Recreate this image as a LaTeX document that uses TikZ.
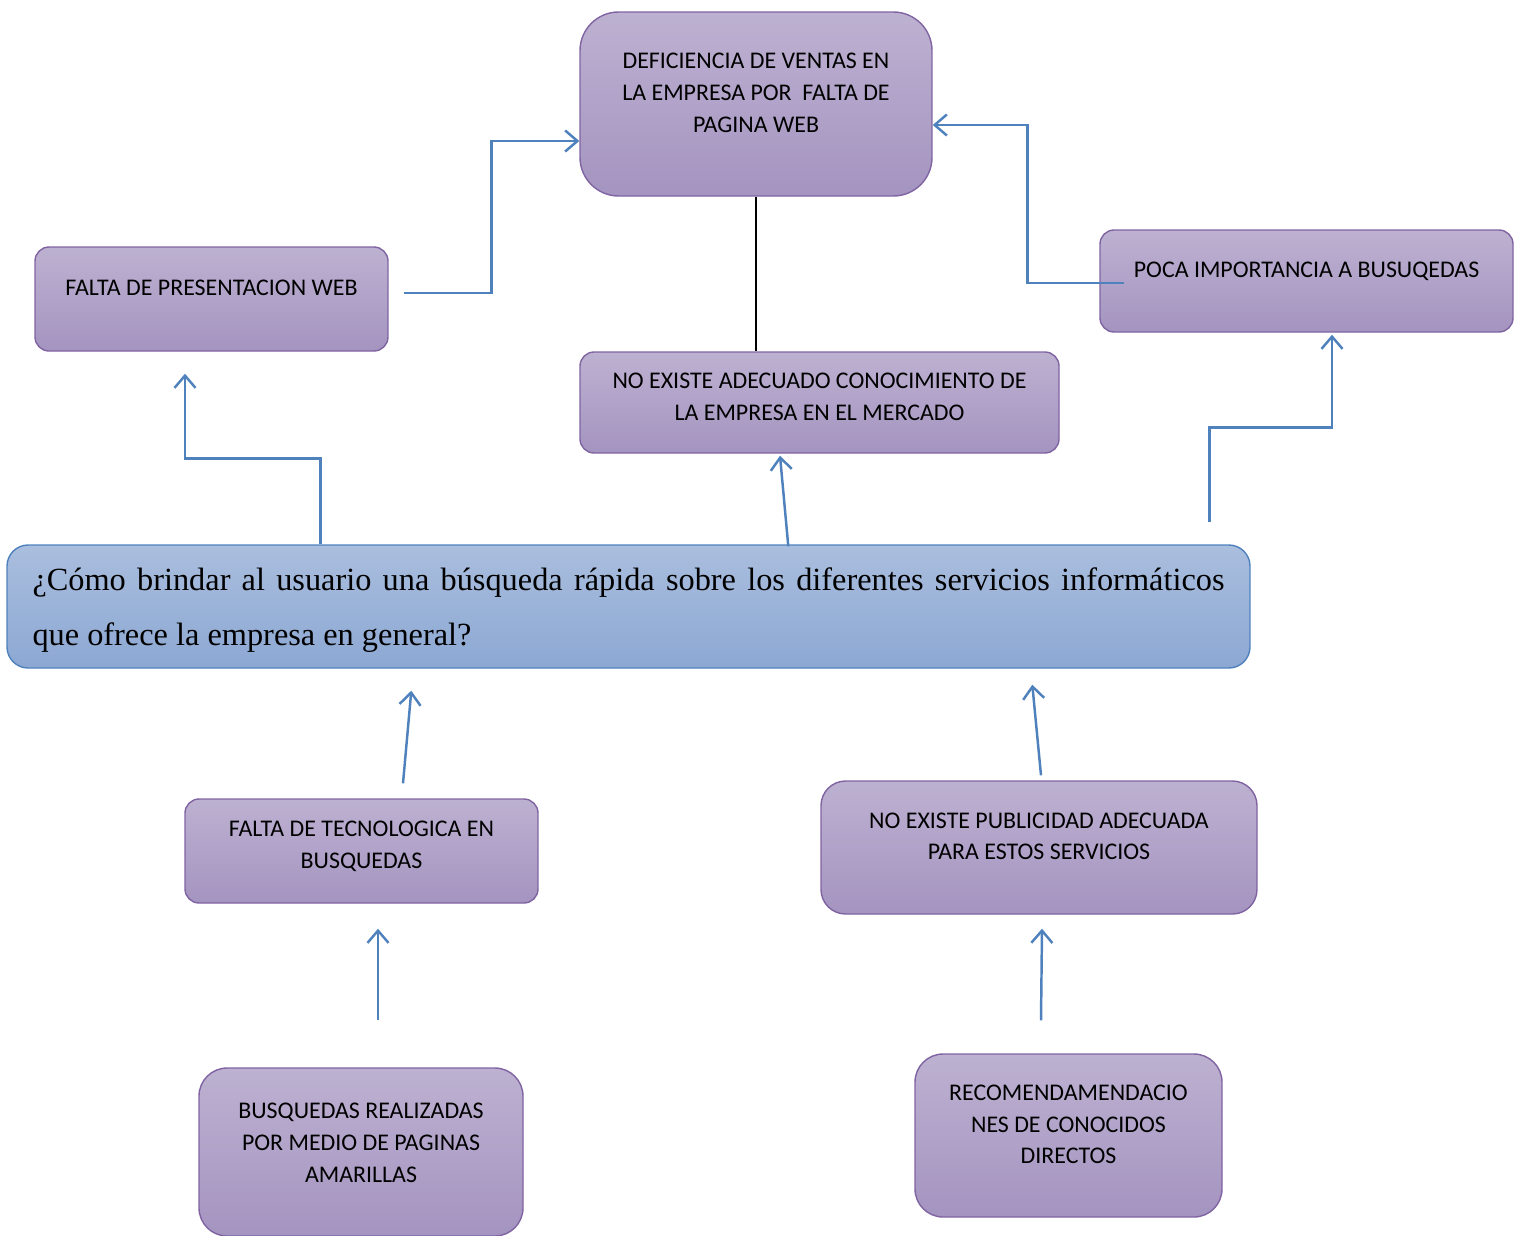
\documentclass[tikz,border=0pt]{standalone}
\usepackage{fontspec}
\setmainfont{Carlito}
\newfontfamily\preguntafont{Liberation Serif}
\usepackage{tikz}
\usetikzlibrary{arrows.meta, positioning, calc}
\definecolor{boxtop}{RGB}{189,177,209}
\definecolor{boxbot}{RGB}{164,148,192}
\definecolor{boxline}{RGB}{128,100,162}
\definecolor{pregtop}{RGB}{170,190,222}
\definecolor{pregbot}{RGB}{140,168,211}
\definecolor{arrowblue}{RGB}{79,129,189}

\begin{document}
\begin{tikzpicture}[
  causa/.style={rectangle, rounded corners=8pt, draw=boxline, line width=0.8pt,
                top color=boxtop, bottom color=boxbot, align=center, inner sep=0pt,
                font=\fontsize{13.6}{18.1}\selectfont, text depth=0.45cm},
  pregunta/.style={rectangle, rounded corners=12pt, draw=arrowblue, line width=0.8pt,
                   top color=pregtop, bottom color=pregbot, align=justify,
                   text width=23.84cm, inner xsep=0.51cm, minimum height=2.46cm,
                   text height=0.6cm, font=\preguntafont\fontsize{18.4}{31.3}\selectfont},
  arrow/.style={-{Straight Barb[length=7pt, width=12pt]}, line width=1.4pt, draw=arrowblue},
]
\useasboundingbox (0,0) rectangle (30.46,-24.7);
\node[causa, minimum width=7.04cm, minimum height=3.68cm, rounded corners=22pt] (def) at (15.12,-2.08)
  {DEFICIENCIA DE VENTAS EN\\LA EMPRESA POR \ FALTA DE\\PAGINA WEB};
\node[causa, minimum width=7.06cm, minimum height=2.08cm] (pres) at (4.23,-5.98)
  {FALTA DE PRESENTACION WEB};
\node[causa, minimum width=8.26cm, minimum height=2.04cm] (poca) at (26.13,-5.62)
  {POCA IMPORTANCIA A BUSUQEDAS};
\node[causa, minimum width=9.58cm, minimum height=2.02cm, text depth=0.22cm] (conoc) at (16.39,-8.05)
  {NO EXISTE ADECUADO CONOCIMIENTO DE\\LA EMPRESA EN EL MERCADO};
\node[pregunta] (preg) at (12.57,-12.13)
  {¿Cómo brindar al usuario una búsqueda rápida sobre los diferentes servicios informáticos\linebreak que ofrece la empresa en general?};
\node[causa, minimum width=7.06cm, minimum height=2.08cm, text depth=0.25cm] (tecno) at (7.23,-17.02)
  {FALTA DE TECNOLOGICA EN\\BUSQUEDAS};
\node[causa, minimum width=8.72cm, minimum height=2.66cm, rounded corners=14pt] (publi) at (20.78,-16.95)
  {NO EXISTE PUBLICIDAD ADECUADA\\PARA ESTOS SERVICIOS};
\node[causa, minimum width=6.48cm, minimum height=3.36cm, rounded corners=16pt, text depth=0.38cm] (busq) at (7.22,-23.04)
  {BUSQUEDAS REALIZADAS\\POR MEDIO DE PAGINAS\\AMARILLAS};
\node[causa, minimum width=6.14cm, minimum height=3.26cm, rounded corners=16pt] (recom) at (21.37,-22.71)
  {RECOMENDAMENDACIO\\NES DE CONOCIDOS\\DIRECTOS};
% conectores superiores
\draw[arrow] ($(pres.east)+(0.3,0.12)$) -- ++(1.76,0) |- ($(def.west)+(0,-0.74)$);
\draw[arrow] ($(poca.west)+(0.5,-0.04)$) -- ++(-1.94,0) |- ($(def.east)+(0,-0.42)$);
\draw[line width=1pt] (def.south) -- (def.south |- conoc.north);
% desde la pregunta
\draw[arrow] ($(preg.north west)+(6.28,0)$) -- ++(0,1.72) -| ($(pres.south)+(-0.53,-0.44)$);
\draw[arrow] ($(preg.north west)+(15.64,-0.04)$) -- ($(conoc.south)+(-0.79,-0.04)$);
\draw[arrow] ($(preg.north west)+(24.06,0.44)$) -- ++(0,1.9) -| ($(poca.south)+(0.51,-0.04)$);
% hacia la pregunta
\draw[arrow] ($(tecno.north)+(0.83,0.3)$) -- ($(preg.south west)+(8.1,-0.44)$);
\draw[arrow] ($(publi.north)+(0.04,0.1)$) -- ($(preg.south west)+(20.52,-0.32)$);
\draw[arrow] ($(busq.north)+(0.34,0.94)$) -- ($(tecno.south)+(0.33,-0.5)$);
\draw[arrow] ($(recom.north)+(-0.55,0.66)$) -- ($(publi.south)+(0.06,-0.28)$);
\end{tikzpicture}
\end{document}
